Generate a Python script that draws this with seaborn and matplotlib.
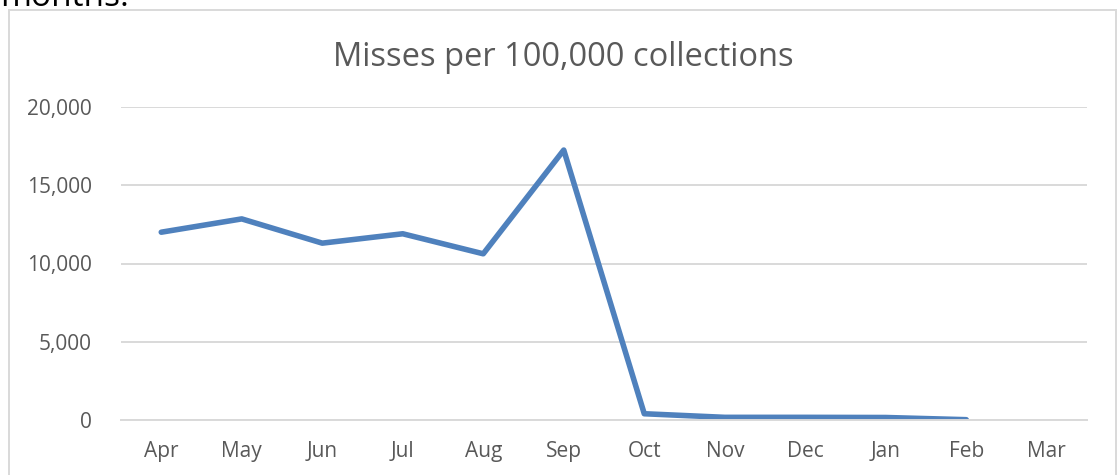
import numpy as np
import pandas as pd
import matplotlib
matplotlib.use("Agg")
import matplotlib.pyplot as plt
from matplotlib.patches import Rectangle
import seaborn as sns

months = ["Apr", "May", "Jun", "Jul", "Aug", "Sep", "Oct", "Nov", "Dec", "Jan", "Feb", "Mar"]
misses = [12000, 12850, 11300, 11900, 10620, 17250, 400, 170, 170, 160, 20, np.nan]
y_ticks = [0, 5000, 10000, 15000, 20000]
title = "Misses per 100,000 collections"

sns.set_theme(style="white")
plt.rcParams["font.family"] = ["Open Sans", "DejaVu Sans"]

W, H = 1117, 475
fig = plt.figure(figsize=(W / 100, H / 100), dpi=100)
ax = fig.add_axes([121 / W, 1 - 420 / H, (1087 - 121) / W, (420 - 107) / H])

df = pd.DataFrame({"pos": np.arange(len(months)), "value": misses})
sns.lineplot(data=df, x="pos", y="value", ax=ax, color="#4f81bd", linewidth=4.0,
             solid_capstyle="round", solid_joinstyle="round")

grid_c = "#d9d9d9"
label_c = "#595959"
ax.set_xlim(-0.5, len(months) - 0.5)
ax.set_ylim(0, 20000)
ax.set_yticks(y_ticks)
ax.set_yticklabels([f"{v:,}" for v in y_ticks])
ax.set_xticks(np.arange(len(months)))
ax.set_xticklabels(months)
ax.set_xticks(np.arange(len(months) + 1) - 0.5, minor=True)
ax.yaxis.grid(True, color=grid_c, linewidth=1.4)
ax.set_axisbelow(True)
for s in ["top", "right", "left"]:
    ax.spines[s].set_visible(False)
ax.spines["bottom"].set_color(grid_c)
ax.spines["bottom"].set_linewidth(1.4)
ax.tick_params(axis="x", which="major", length=0, pad=15, labelsize=15, labelcolor=label_c)
ax.tick_params(axis="x", which="minor", length=6, width=1.4, color=grid_c, direction="out")
ax.tick_params(axis="y", length=0, pad=21, labelsize=15, labelcolor=label_c)
ax.set_xlabel("")
ax.set_ylabel("")

fig.text(563 / W, 1 - 57 / H, title, ha="center", va="center", fontsize=23.5, color=label_c)
fig.text(0.0, 1 - 6.5 / H, "months.", ha="left", va="baseline", fontsize=24, color="black")

fig.patches.append(Rectangle((9 / W, -0.05), (1116 - 9) / W, 1.05 - 10 / H,
                             transform=fig.transFigure, fill=False,
                             edgecolor=grid_c, linewidth=1.4))

fig.savefig("out.png", dpi=100)
